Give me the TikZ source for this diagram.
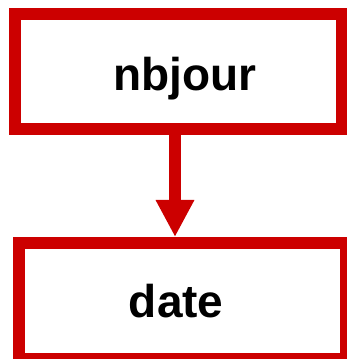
\documentclass[tikz,border=0pt]{standalone}
\usepackage{fontspec}
\setmainfont{Liberation Sans}
\usepackage{tikz}
\usetikzlibrary{positioning, arrows.meta, calc}
\definecolor{boxred}{rgb}{0.8, 0, 0}

\begin{document}
\begin{tikzpicture}[x=1pt, y=1pt,
		varbox/.style={draw=boxred, line width=12pt, minimum width=327pt, minimum height=115pt, inner sep=0pt, text height=33pt, text depth=0pt, font=\fontsize{46}{50}\selectfont\bfseries},
		flow/.style={draw=boxred, line width=12pt, -{Triangle[width=36pt, length=37pt]}}]
		\useasboundingbox (0,0) rectangle (347,359);
		\node[varbox] (nbjour) at (178.75,287.5) {\hspace{12pt}\raisebox{-3pt}{nbjour}};
		\node[varbox, minimum height=116pt] (date) at (182.25,58) {\hspace{-12pt}date};
		
		\draw[flow] ([xshift=-3.75pt]nbjour.south) -- ([xshift=-7.25pt]date.north);
		\end{tikzpicture}
\end{document}
